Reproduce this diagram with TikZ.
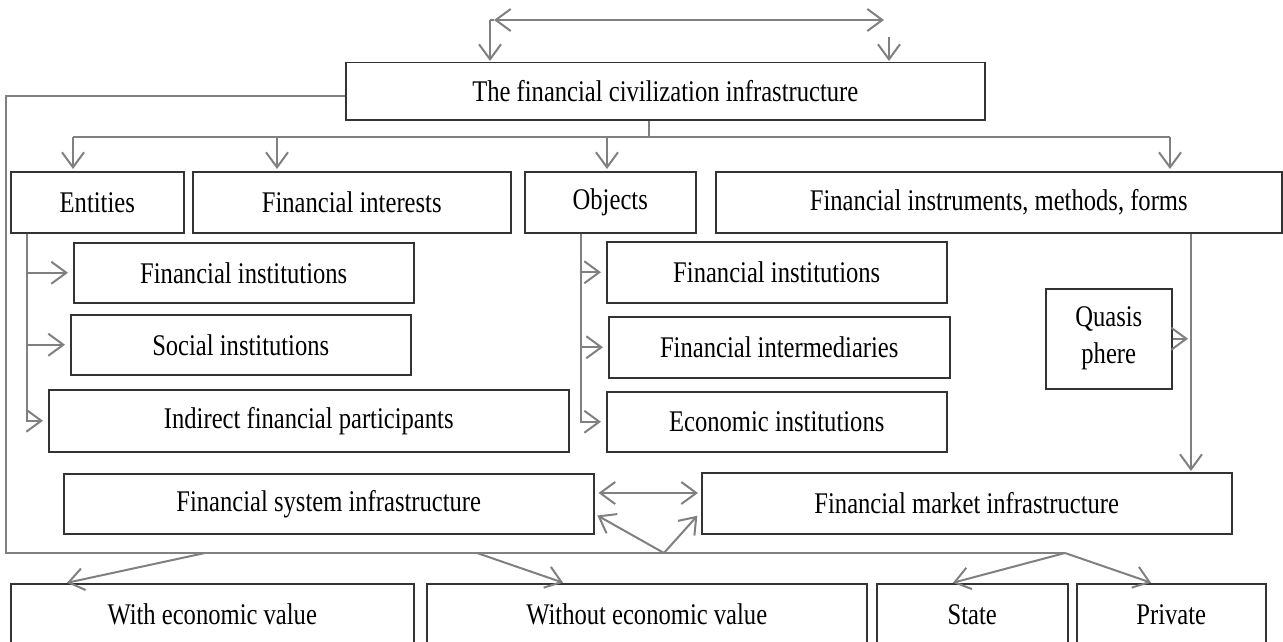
\documentclass[tikz,border=0pt]{standalone}
\usepackage{fontspec}
\setmainfont{Liberation Serif}[FakeStretch=0.82]
\usetikzlibrary{arrows.meta}

\begin{document}
\begin{tikzpicture}[x=1pt, y=-1pt,
    >={Straight Barb[length=15pt, width=22pt]},
    box/.style={draw=black!80, line width=1.5pt, inner sep=0pt, align=center, anchor=north west, font=\fontsize{30}{37}\selectfont},
    lin/.style={draw=black!50, line width=2pt},
    arr/.style={lin, ->, shorten >=1pt}]

              \useasboundingbox (0,0) rectangle (1283,642);
              \clip (0,0) rectangle (1283,642);

              \node[box, minimum width=639pt, minimum height=57pt] (civ) at (345,62) {The financial civilization infrastructure};

              \node[box, minimum width=173pt, minimum height=61pt] (ent) at (10,171) {Entities};
              \node[box, minimum width=318pt, minimum height=61pt] (fint) at (192,171) {Financial interests};
              \node[box, minimum width=171pt, minimum height=61pt] (obj) at (524,171) {Objects};
              \node[box, minimum width=566pt, minimum height=61pt] (finst) at (715,171) {Financial instruments, methods, forms};

              \node[box, minimum width=340pt, minimum height=60pt] (fi1) at (73,242) {Financial institutions};
              \node[box, minimum width=340pt, minimum height=60pt] (soc) at (70,314) {Social institutions};
              \node[box, minimum width=520pt, minimum height=62pt] (ind) at (48,389) {Indirect financial participants};

              \node[box, minimum width=340pt, minimum height=61pt] (fi2) at (606,241) {Financial institutions};
              \node[box, minimum width=341pt, minimum height=61pt] (fmed) at (608,316) {Financial intermediaries};
              \node[box, minimum width=340pt, minimum height=60pt] (eco) at (606,391) {Economic institutions};

              \node[box, minimum width=126pt, minimum height=100pt] (qs) at (1045,288) {Quasis\\phere};

              \node[box, minimum width=530pt, minimum height=60pt] (fsi) at (63,473) {Financial system infrastructure};
              \node[box, minimum width=530pt, minimum height=61pt] (fmi) at (701,472) {Financial market infrastructure};

              \node[box, minimum width=403pt, minimum height=61pt] (wev) at (10,583) {With economic value};
              \node[box, minimum width=440pt, minimum height=61pt] (woev) at (426,583) {Without economic value};
              \node[box, minimum width=191pt, minimum height=61pt] (st) at (876,583) {State};
              \node[box, minimum width=189pt, minimum height=61pt] (pr) at (1076,583) {Private};

              \coordinate (t1) at (490,20);
              \coordinate (t2) at (889,37);
              \coordinate (h1) at (494,20);
              \coordinate (h2) at (884,20);
              \draw[lin] (t1) -- (h1);
              \draw[lin, <->] (h1) -- (h2);
              \draw[arr] (t1) -- (t1 |- civ.north);
              \draw[arr] (t2) -- (t2 |- civ.north);

              \coordinate (lb) at (6,553);
              \coordinate (rb) at (1065,553);
              \draw[lin] ([yshift=-4.5pt]civ.west) -| (lb) -- (rb);

              \coordinate (bt) at (649,137);
              \coordinate (b1) at (73,137);
              \coordinate (b2) at (277,137);
              \coordinate (b3) at (607,137);
              \coordinate (b4) at (1170,137);
              \draw[lin] (bt |- civ.south) -- (bt);
              \draw[lin] (b1) -- (b4);
              \foreach \b/\n in {b1/ent, b2/fint, b3/obj, b4/finst}
                  \draw[arr, shorten >=2pt] (\b) -- (\b |- \n.north);

              \coordinate (e0) at (27,0);
              \foreach \n in {fi1, soc, ind}
                  \draw[arr, shorten >=5pt] (ent.south -| e0) |- (\n.west);

              \coordinate (o0) at (581,0);
              \foreach \n in {fi2, fmed, eco}
                  \draw[arr, shorten >=5pt] (obj.south -| o0) |- (\n.west);

              \coordinate (r0) at (1191,0);
              \draw[arr] (finst.south -| r0) -- (fmi.north -| r0);
              \draw[arr, shorten >=3pt] (qs.east) -- (qs.east -| r0);

              \coordinate (m0) at (0,493);
              \coordinate (m1) at (0,515);
              \coordinate (ap) at (664,553);
              \draw[lin, <->, shorten <=4pt, shorten >=3pt] (fsi.east |- m0) -- (fmi.west |- m0);
              \draw[arr] (ap) -- ([xshift=2pt]fsi.east |- m1);
              \draw[arr] (ap) -- ([xshift=-3pt]fmi.west |- m1);

              \coordinate (d1) at (205,553);
              \coordinate (d2) at (477,553);
              \coordinate (w1) at (66,0);
              \coordinate (w2) at (564,0);
              \coordinate (w3) at (952,0);
              \coordinate (w4) at (1152,0);
              \draw[arr] (d1) -- (wev.north -| w1);
              \draw[arr] (d2) -- (woev.north -| w2);
              \draw[arr] (rb) -- (st.north -| w3);
              \draw[arr] (rb) -- (pr.north -| w4);

          \end{tikzpicture}
\end{document}
